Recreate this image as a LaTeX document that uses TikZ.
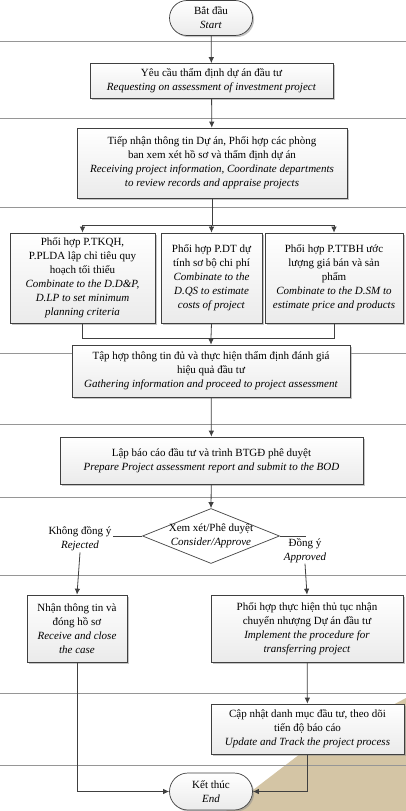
\documentclass[tikz,border=0pt]{standalone}
\usepackage{fontspec}
\setmainfont{Liberation Serif}
\usepackage{tikz}
\usetikzlibrary{shapes.misc,shapes.geometric,shadows,arrows.meta}

\definecolor{linegray}{RGB}{64,64,64}
\definecolor{lanegray}{RGB}{150,150,150}
\definecolor{paper}{RGB}{212,197,165}

\tikzset{
  box/.style={draw=linegray, line width=0.7pt, top color=white, bottom color=gray!16,
    drop shadow={shadow xshift=1.6pt, shadow yshift=-1.6pt, fill=black!45},
    align=center, inner sep=1pt, font=\fontsize{11}{14}\selectfont},
  term/.style={box, rounded rectangle},
  flow/.style={draw=linegray, line width=0.8pt},
  arr/.style={flow, -{Latex[length=6pt,width=5.5pt]}},
  lane/.style={draw=lanegray, line width=0.9pt},
  lbl/.style={align=center, inner sep=1pt, font=\fontsize{11}{14}\selectfont}
}

\begin{document}
\begin{tikzpicture}[x=1pt, y=-1pt]
        \useasboundingbox (0,0) rectangle (406,811);
        \fill [paper] (406,698) -- (300,754) -- (253,790) -- (226,811) -- (406,811) -- cycle;%
        \foreach \y in {41.5,118.5,207,353,424,497,575,693,765}
          \draw [lane] (0,\y) -- (406,\y);                          %lanes

        \node [term, minimum width=85, minimum height=35] (start) at (211,18)
              {Bắt đầu\\\textit{Start}};                              %start
        \node [box, minimum width=243, minimum height=35] (req) at (211.5,81)
              {Yêu cầu thẩm định dự án đầu tư\\
               \textit{Requesting on assessment of investment project}};
        \node [box, minimum width=270, minimum height=70] (recv) at (212,163)
              {Tiếp nhận thông tin Dự án, Phối hợp các phòng\\
               ban xem xét hồ sơ và thẩm định dự án\\
               \textit{Receiving project information, Coordinate departments}\\
               \textit{to review records and appraise projects}};

        \node [box, minimum width=145, minimum height=90] (plan) at (82.5,278)
              {Phối hợp P.TKQH,\\P.PLDA lập chỉ tiêu quy\\hoạch tối thiểu\\
               \textit{Combinate to the D.D\&P,}\\\textit{D.LP to set minimum}\\
               \textit{planning criteria}};                           %left
        \node [box, minimum width=101, minimum height=90] (cost) at (211.5,278)
              {Phối hợp P.DT dự\\tính sơ bộ chi phí\\
               \textit{Combinate to the}\\\textit{D.QS to estimate}\\
               \textit{costs of project}};                            %middle
        \node [box, minimum width=138, minimum height=90] (price) at (334,278)
              {Phối hợp P.TTBH ước\\lượng giá bán và sản\\phẩm\\
               \textit{Combinate to the D.SM to}\\
               \textit{estimate price and products}};                 %right

        \node [box, minimum width=278, minimum height=52] (gather) at (211,371)
              {Tập hợp thông tin đủ và thực hiện thẩm định đánh giá\\
               hiệu quả đầu tư\\
               \textit{Gathering information and proceed to project assessment}};
        \node [box, minimum width=303, minimum height=47] (report) at (211.5,460.5)
              {Lập báo cáo đầu tư và trình BTGĐ phê duyệt\\
               \textit{Prepare Project assessment report and submit to the BOD}};

        \node [diamond, draw=linegray, line width=0.7pt, fill=white, inner sep=0,
               minimum width=137, minimum height=55] (dec) at (211,536) {};
        \node [lbl] at (dec) {Xem xét/Phê duyệt\\\textit{Consider/Approve}};%
        \node [lbl] (rej) at (80,539) {Không đồng ý\\\textit{Rejected}};
        \node [lbl, anchor=north] (app) at (305,537) {Đồng ý\\\textit{Approved}};

        \node [box, minimum width=100, minimum height=67] (close) at (77,628.5)
              {Nhận thông tin và\\đóng hồ sơ\\
               \textit{Receive and close}\\\textit{the case}};
        \node [box, minimum width=192, minimum height=67] (trans) at (307,628.5)
              {Phối hợp thực hiện thủ tục nhận\\
               chuyển nhượng Dự án đầu tư\\
               \textit{Implement the procedure for}\\
               \textit{transferring project}};
        \node [box, minimum width=193, minimum height=50] (track) at (307.5,729)
              {Cập nhật danh mục đầu tư, theo dõi\\tiến độ báo cáo\\
               \textit{Update and Track the project process}};
        \node [term, minimum width=85, minimum height=37] (end) at (211,791.5)
              {Kết thúc\\\textit{End}};                               %end

        \coordinate (split) at (212,225);
        \coordinate (join)  at (211,338);

        \draw [arr]  (start) -- (req);
        \draw [arr]  (req) -- (recv);
        \draw [flow] (recv.south) -- (split);
        \draw [flow] (split -| plan.north) -- (split -| price.north);
        \draw [arr]  (split -| plan.north) -- (plan.north);
        \draw [arr]  (split -| cost.north) -- (cost.north);
        \draw [arr]  (split -| price.north) -- (price.north);
        \draw [flow] (plan.south) -- (plan.south |- join) -- (price.south |- join) -- (price.south);
        \draw [flow] (cost.south) -- (join);
        \draw [arr]  (join) -- (gather.north);
        \draw [arr]  (gather) -- (report);
        \draw [arr]  (report) -- (dec.north);
        \draw [flow] (dec.west) -- (dec.west -| rej.east);
        \draw [arr]  (rej.south) -- (close.north);
        \draw [flow] (dec.east) -- (dec.east -| app.north) -- (app.north);
        \draw [arr]  (app.south) -- (trans.north);
        \draw [arr]  (close.south) |- (end.west);
        \draw [arr]  (trans) -- (track);
        \draw [arr]  (track.south) |- (end.east);
      \end{tikzpicture}
\end{document}
